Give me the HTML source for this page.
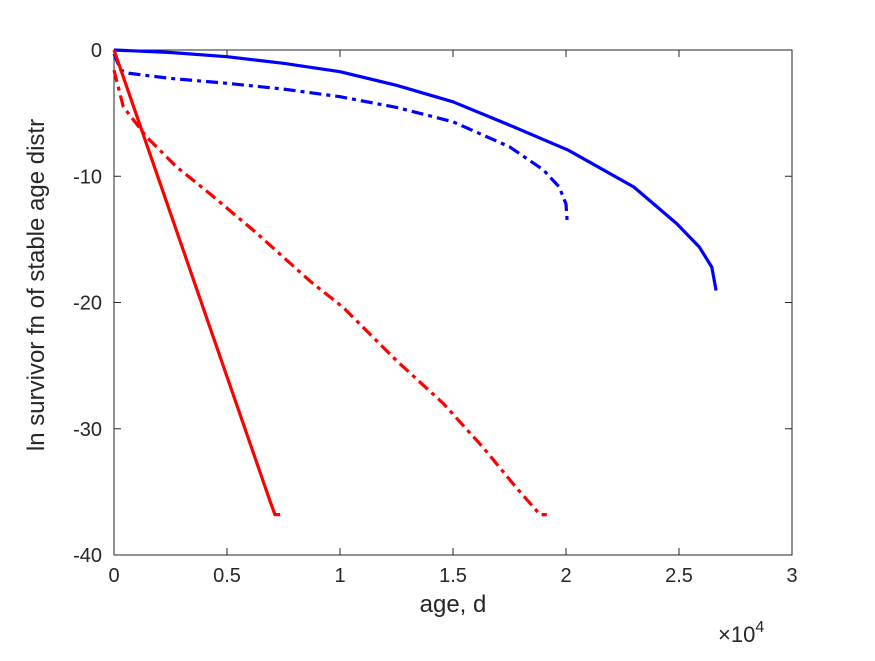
<!DOCTYPE html>
<html><head><meta charset="utf-8"><style>
body{margin:0;background:#fff}
svg text{font-family:"Liberation Sans",Arial,sans-serif;fill:#262626}
</style></head><body>
<svg id="chart" width="875" height="656" viewBox="0 0 875 656" xmlns="http://www.w3.org/2000/svg">
<rect width="875" height="656" fill="#fff"/>
<g id="axes"></g>
<g id="series"></g>
<text x="453" y="612" font-size="24" text-anchor="middle">age, d</text>
<text transform="translate(44,285) rotate(-90)" font-size="24" text-anchor="middle">ln survivor fn of stable age distr</text>
<text x="718" y="642" font-size="22">×10<tspan font-size="16" dy="-10">4</tspan></text>
</svg>
<script>
const xTicks=[0,5000,10000,15000,20000,25000,30000];
const xTickLabels=["0","0.5","1","1.5","2","2.5","3"];
const yTicks=[0,-10,-20,-30,-40];
const yTickLabels=["0","-10","-20","-30","-40"];
const blueSolidX=[0,2500,5000,7500,10000,12500,15000,17500,20100,23000,24900,25900,26450,26640];
const blueSolidY=[0,-0.2,-0.53,-1.05,-1.72,-2.8,-4.1,-5.95,-7.94,-10.85,-13.75,-15.6,-17.2,-19.05];
const blueDashX=[0,300,700,2500,5000,7500,10000,12500,15000,17500,19000,19700,20000,20050];
const blueDashY=[-0.3,-1.6,-1.85,-2.25,-2.64,-3.1,-3.7,-4.55,-5.69,-7.67,-9.5,-10.85,-12.2,-13.5];
const redSolidX=[0,6900,7120,7350];
const redSolidY=[0,-35.7,-36.8,-36.8];
const redDashX=[0,410,1450,2770,4250,6310,8670,10150,12500,14570,16340,17820,18850,19150];
const redDashY=[-1.6,-4.5,-6.9,-9.26,-11.4,-14.5,-18.3,-20.4,-24.6,-28.0,-31.5,-34.7,-36.8,-36.8];
const L=114,R=792,T=50,B=555;
const sx=v=>L+(v-0)/30000*(R-L);
const sy=v=>T+(0-v)/40*(B-T);
const NS="http://www.w3.org/2000/svg";
const axes=document.getElementById('axes');
function mk(tag,attrs,parent){const e=document.createElementNS(NS,tag);for(const k in attrs)e.setAttribute(k,attrs[k]);parent.appendChild(e);return e;}
const box=mk('rect',{x:L,y:T,width:R-L,height:B-T,fill:'none',stroke:'#262626','stroke-width':1},axes);


xTicks.forEach((t,i)=>{
  const x=sx(t);
  const a=mk('line',{x1:x,x2:x,y1:B,y2:B-7,stroke:'#262626'},axes);
  
  
  const b=mk('line',{x1:x,x2:x,y1:T,y2:T+7,stroke:'#262626'},axes);
  
  
  const tx=mk('text',{x:x,y:B+27,'font-size':20,'text-anchor':'middle'},axes);
  tx.textContent=xTickLabels[i];
  
  
});
yTicks.forEach((t,i)=>{
  const y=sy(t);
  const a=mk('line',{x1:L,x2:L+7,y1:y,y2:y,stroke:'#262626'},axes);
  
  
  const b=mk('line',{x1:R,x2:R-7,y1:y,y2:y,stroke:'#262626'},axes);
  
  
  const tx=mk('text',{x:L-12,y:y+7,'font-size':20,'text-anchor':'end'},axes);
  tx.textContent=yTickLabels[i];
  
  
});
const series=document.getElementById('series');
function line(xs,ys,color,dash,name){
  const d=xs.map((x,i)=>(i?'L':'M')+sx(x).toFixed(1)+','+sy(ys[i]).toFixed(1)).join('');
  const p=mk('path',{d:d,fill:'none',stroke:color,'stroke-width':3.2,'stroke-linejoin':'round'},series);
  if(dash)p.setAttribute('stroke-dasharray',dash);
  
  
}
line(blueSolidX,blueSolidY,'#0000ff',null,'blue-solid-line');
line(blueDashX,blueDashY,'#0000ff','12,5,4,5','blue-dashdot-line');
line(redSolidX,redSolidY,'#ff0000',null,'red-solid-line');
line(redDashX,redDashY,'#ff0000','12,5,4,5','red-dashdot-line');
</script>
</body></html>
